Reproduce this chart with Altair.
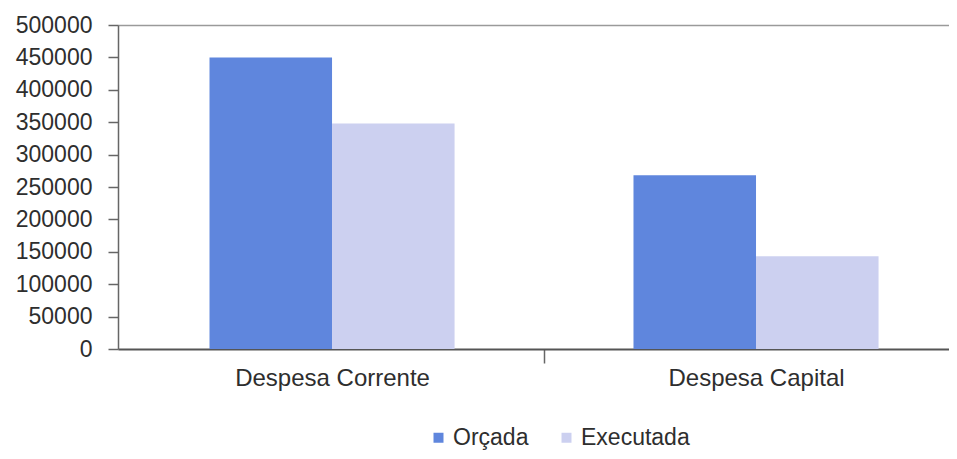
import altair as alt
import pandas as pd

categorias = ["Despesa Corrente", "Despesa Capital"]
series = ["Orçada", "Executada"]
orcada = [450000, 268000]
executada = [348000, 143000]
y_ticks = [0, 50000, 100000, 150000, 200000, 250000, 300000, 350000, 400000, 450000, 500000]
cores = ["#5f86dd", "#ccd0f0"]

rows = []
for i, c in enumerate(categorias):
    rows.append({"categoria": c, "serie": series[0], "valor": orcada[i]})
    rows.append({"categoria": c, "serie": series[1], "valor": executada[i]})
df = pd.DataFrame(rows)

FONT = "Liberation Sans"
TXT = "#2e2e2e"

chart = alt.Chart(df).mark_bar().encode(
    x=alt.X(
        "categoria:N",
        sort=categorias,
        title=None,
        scale=alt.Scale(paddingInner=0.422, paddingOuter=0.191, align=0.565),
        axis=alt.Axis(
            labelAngle=0,
            labelFont=FONT,
            labelFontSize=24,
            labelColor=TXT,
            labelPadding=3,
            labelLimit=400,
            labelOffset=-212,
            tickSize=14,
            tickOffset=212,
            tickColor="#666666",
            tickWidth=1.5,
            domainColor="#555555",
            domainWidth=2,
            grid=False,
        ),
    ),
    xOffset=alt.XOffset("serie:N", sort=series, scale=alt.Scale(domain=series, paddingInner=0, paddingOuter=0)),
    y=alt.Y(
        "valor:Q",
        title=None,
        scale=alt.Scale(domain=[0, 500000], nice=False),
        axis=alt.Axis(
            values=y_ticks,
            format="d",
            labelFont=FONT,
            labelFontSize=23,
            labelColor=TXT,
            labelPadding=16,
            tickSize=10,
            tickColor="#666666",
            tickWidth=1.5,
            domainColor="#666666",
            domainWidth=1.5,
            grid=True,
            gridColor={"condition": {"test": "datum.value === 500000", "value": "#9a9a9a"}, "value": "transparent"},
            gridWidth=1.5,
        ),
    ),
    color=alt.Color(
        "serie:N",
        sort=series,
        scale=alt.Scale(domain=series, range=cores),
        legend=alt.Legend(
            title=None,
            orient="none",
            legendX=309,
            legendY=401,
            direction="horizontal",
            symbolType="square",
            symbolSize=100,
            symbolStrokeWidth=0,
            labelFont=FONT,
            labelFontSize=23,
            labelColor=TXT,
            labelOffset=3,
            labelLimit=300,
            columnPadding=26,
        ),
    ),
).properties(
    width=831,
    height=324,
    autosize=alt.AutoSizeParams(type="none"),
    padding={"left": 110, "top": 17, "right": 0, "bottom": 102},
).configure_view(
    fill="#e7e8eb",
    stroke=None,
).configure(background="#ffffff")

chart.save("out.html", embed_options={"renderer": "svg", "actions": False})
